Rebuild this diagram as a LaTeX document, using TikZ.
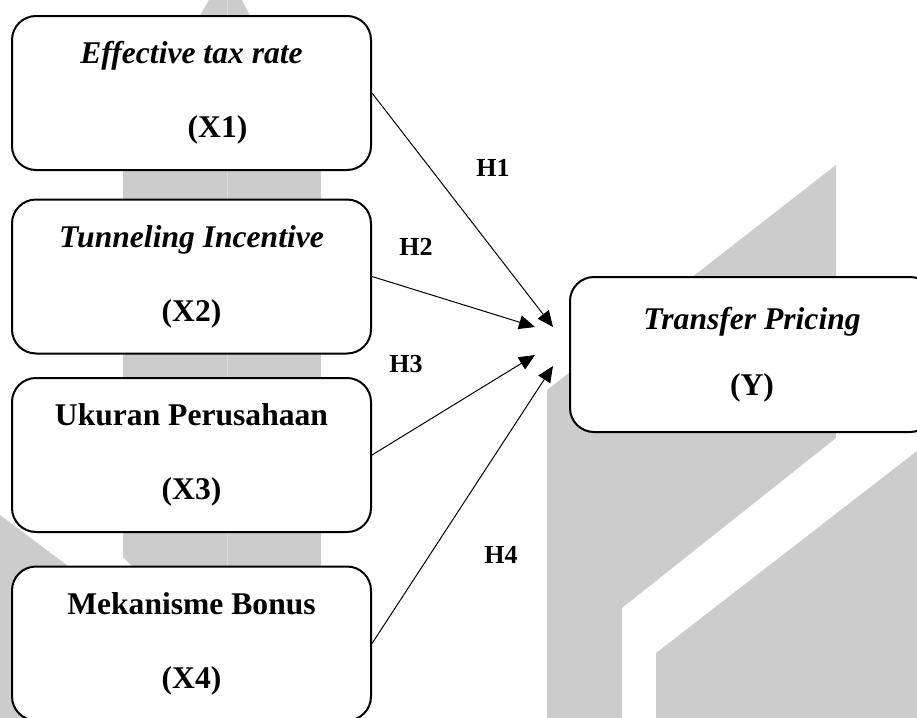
\documentclass[tikz,border=0pt]{standalone}
\usepackage{fontspec}
\setmainfont{Liberation Serif}
\usepackage{xcolor}
\usepackage{tikz}
\usetikzlibrary{arrows.meta,positioning}
\definecolor{markGray}{HTML}{CCCCCC}

\begin{document}
\begin{tikzpicture}[
  x=0.5pt, y=-0.5pt,
  every node/.style={font=\fontsize{15.8}{18}\selectfont},
  varbox/.style={draw=black, line width=1pt, fill=white, rounded corners=12pt,
             minimum width=179.5pt, minimum height=77pt, inner sep=0pt,
             align=center, font=\fontsize{15.8}{18}\selectfont\bfseries},
  hyp/.style={-{Triangle[length=8pt, width=7pt]}, line width=0.5pt},
  hlabel/.style={font=\fontsize{13}{15}\selectfont\bfseries},
]
\clip (0,0) rectangle (917,718);

% Watermark
\fill[markGray] (123,557) -- (133,567) -- (226,567) -- (226,700) -- (321,700)
  -- (321,150) -- (226,-30) -- (123,150) -- cycle;
\draw[white, opacity=0.3, line width=0.4pt] (227,-10) -- (227,700);
\fill[markGray] (0,515) -- (72,569) -- (72,718) -- (0,718) -- cycle;
\fill[markGray] (547,718) -- (547,390) -- (836,165) -- (836,438) -- (622,608)
  -- (622,718) -- cycle;
\fill[markGray] (656,718) -- (656,653) -- (917,451) -- (917,718) -- cycle;

% Independent variables
\node[varbox] (etr) at (191.5, 93)
  {\textit{Effective tax rate}\\[19pt]\hspace*{26pt}(X1)};
\node[varbox] (tun) at (191.5, 276.5)
  {\textit{Tunneling Incentive}\\[19pt](X2)};
\node[varbox] (size) at (191.5, 455)
  {Ukuran Perusahaan\\[19pt](X3)};
\node[varbox] (bonus) at (191.5, 643.5)
  {Mekanisme Bonus\\[19pt](X4)};

% Dependent variable
\node[varbox, minimum width=182pt, minimum height=77.5pt] (tp) at (752, 354.5)
  {\textit{Transfer Pricing}\\[15pt](Y)};

% Hypotheses
\coordinate (tip1) at (553,327);
\coordinate (tip2) at (535,327);
\coordinate (tip3) at (535,355);
\coordinate (tip4) at (553,366);
\draw[hyp] (etr.east) -- (tip1);
\draw[hyp] (tun.east) -- (tip2);
\draw[hyp] (size.east) -- (tip3);
\draw[hyp] (bonus.east) -- (tip4);

\node[hlabel] (h1) at (493,168) {H1};
\node[hlabel] (h2) at (416,247) {H2};
\node[hlabel] (h3) at (406,364) {H3};
\node[hlabel] (h4) at (501,555) {H4};

\end{tikzpicture}
\end{document}
